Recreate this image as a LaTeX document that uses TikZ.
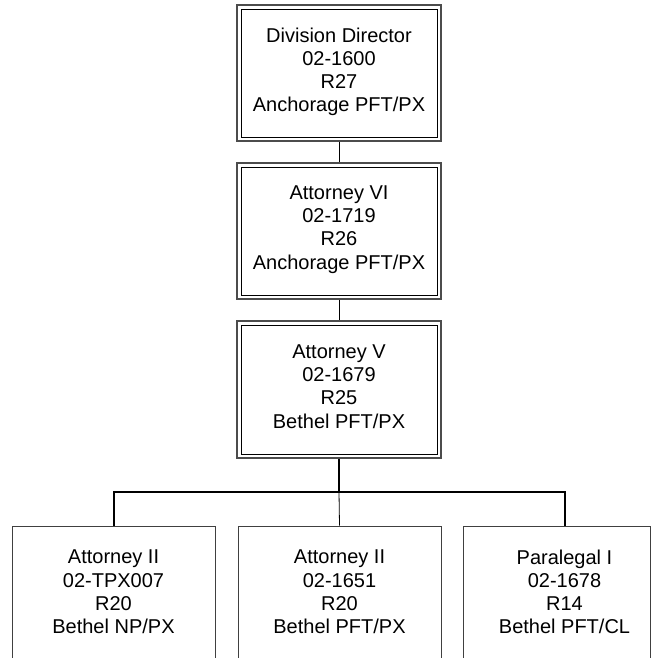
\documentclass[tikz,border=0pt]{standalone}
\usepackage{fontspec}
\setmainfont{Liberation Sans}
\begin{document}
\begin{tikzpicture}[x=1pt,y=-1pt,
  outerbox/.style={draw=black!70, line width=1.3pt, inner sep=0pt},
  innerbox/.style={draw=black, line width=0.8pt},
  singlebox/.style={draw=black!75, line width=1pt, inner sep=0pt, minimum height=170pt},
  lbl/.style={align=center, font=\fontsize{20}{23.2}\selectfont, inner sep=0pt},
  thinline/.style={line width=0.8pt},
  thickline/.style={line width=2pt}]
\useasboundingbox (0,0) rectangle (651,658);
% double boxes
\node[outerbox, minimum width=204pt, minimum height=136pt] (dir) at (339,73) {};
\node[outerbox, minimum width=204pt, minimum height=136pt] (a6) at (339,231) {};
\node[outerbox, minimum width=204pt, minimum height=137pt] (a5) at (339,389.5) {};
\foreach \b in {dir,a6,a5}{
  \draw[innerbox] ([shift={(4.7,4.7)}]\b.north west) rectangle ([shift={(-4.7,-4.7)}]\b.south east);
}
\node[lbl] (tdir) at (339,72) {Division Director\\02-1600\\R27\\Anchorage PFT/PX};
\node[lbl] (ta6) at (339,229.5) {Attorney VI\\02-1719\\R26\\Anchorage PFT/PX};
\node[lbl] (ta5) at (339,386.5) {Attorney V\\02-1679\\R25\\Bethel PFT/PX};
% bottom boxes
\node[singlebox, minimum width=203pt] (b1) at (113.5,611) {};
\node[singlebox, minimum width=203pt] (b2) at (339.5,611) {};
\node[singlebox, minimum width=187pt] (b3) at (556.5,611) {};
\node[lbl] (tb1) at (113.5,592) {Attorney II\\02-TPX007\\R20\\Bethel NP/PX};
\node[lbl] (tb2) at (339.5,592) {Attorney II\\02-1651\\R20\\Bethel PFT/PX};
\node[lbl] (tb3) at (564.5,592) {Paralegal I\\02-1678\\R14\\Bethel PFT/CL};
% connectors
\coordinate (bus) at (339,492);
\coordinate (b3top) at (564.5,526);
\draw[thinline] (dir.south) -- (a6.north);
\draw[thinline] (a6.south) -- (a5.north);
\draw[thickline] (a5.south) -- (bus);
\draw[thickline] (b1.north) -- (b1.north |- bus) -- (b3top |- bus) -- (b3top);
\draw[thinline] (bus) -- (b2.north);
\end{tikzpicture}
\end{document}
